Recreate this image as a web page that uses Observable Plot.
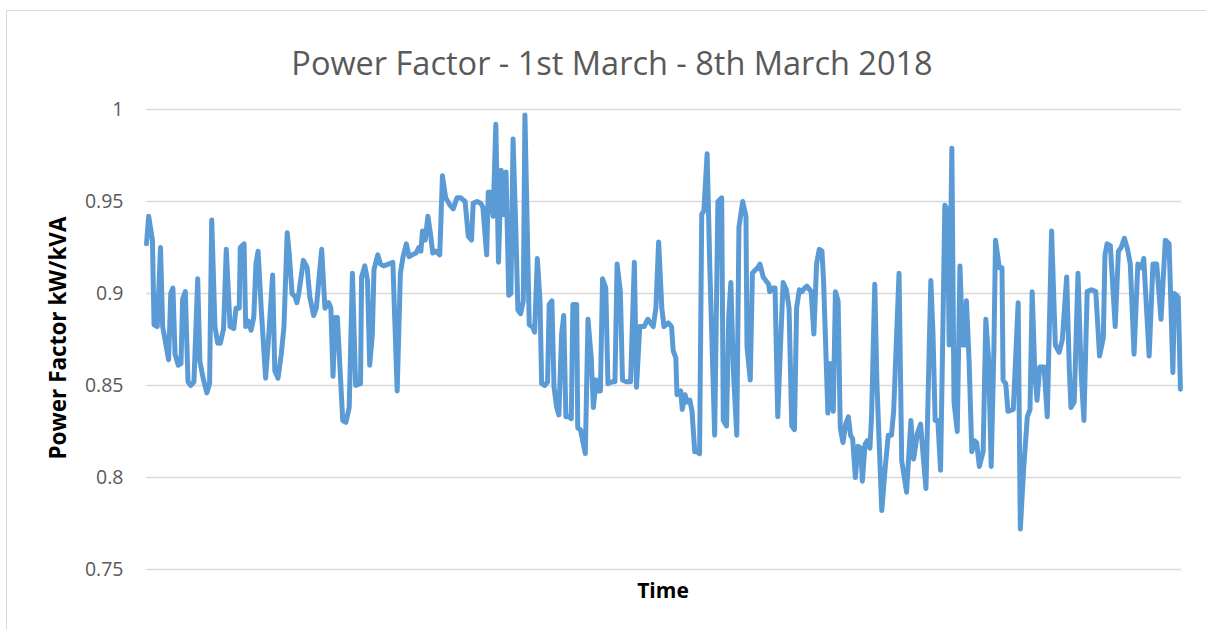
<!DOCTYPE html>
<html>
<head>
<meta charset="utf-8">
<script src="https://cdn.jsdelivr.net/npm/d3@7"></script>
<script src="https://cdn.jsdelivr.net/npm/@observablehq/plot@0.6"></script>
<style>
  html, body { margin: 0; padding: 0; background: #fff; overflow: hidden; }
  #wrap { position: relative; width: 1206px; height: 630px; overflow: hidden; font-family: "Open Sans", sans-serif; }
  #frame { position: absolute; left: 6px; top: 10px; width: 1220px; height: 660px; border: 1px solid #d9d9d9; box-sizing: border-box; }
  #chart { position: absolute; left: 0; top: 0; }
  .lbl { position: absolute; white-space: nowrap; }
  #title { left: 612px; top: 62px; transform: translate(-50%, -50%); font-size: 32.5px; color: #595959; }
  #ylab { left: 57px; top: 338px; transform: translate(-50%, -50%) rotate(-90deg); font-size: 22.5px; font-weight: bold; color: #000; }
  #xlab { left: 663px; top: 590px; transform: translate(-50%, -50%); font-size: 21px; font-weight: bold; color: #000; }
</style>
</head>
<body>
<div id="wrap">
  <div id="frame"></div>
  <div id="chart"></div>
  <div class="lbl" id="title">Power Factor - 1st March - 8th March 2018</div>
  <div class="lbl" id="ylab">Power Factor kW/kVA</div>
  <div class="lbl" id="xlab">Time</div>
</div>
<script>
// Hours since 1 March 2018 00:00
const hours = [0,0.4,1.1,1.4,2.0,2.6,3.0,4.1,4.5,4.9,5.3,5.9,6.4,6.7,7.2,7.7,8.2,8.8,9.5,9.9,10.5,11.2,11.7,12.1,12.7,13.2,13.7,14.3,14.8,15.5,16.2,16.6,17.2,17.4,18.1,18.4,18.9,19.4,19.9,20.3,20.7,21.3,22.1,22.6,23.4,23.8,24.4,25.0,25.5,26.1,26.5,27.0,27.6,27.9,28.3,29.1,29.8,30.3,31.0,31.5,
32.5,33.1,33.8,34.2,34.6,35.0,35.4,36.4,37.0,37.6,38.2,38.8,39.7,39.9,40.5,41.0,41.4,41.9,42.2,42.9,43.4,44.0,44.9,45.7,46.5,47.1,47.6,48.2,48.7,49.3,50.0,50.5,50.9,51.2,51.7,52.2,52.7,53.1,53.7,54.4,54.9,55.5,56.3,56.9,57.6,58.3,59.1,59.7,60.3,60.6,61.3,62.0,62.4,63.1,63.4,
63.8,64.3,64.8,65.3,65.8,66.2,66.7,67.2,67.6,68.0,68.5,68.9,69.4,69.9,70.2,71.0,71.6,72.0,72.5,73.0,73.3,73.9,74.4,74.7,75.2,75.6,76.1,76.5,77.0,77.4,77.8,78.3,78.8,79.1,79.8,80.0,80.5,81.4,81.9,82.5,82.9,83.4,83.8,84.2,84.6,85.2,85.6,86.4,86.9,87.3,87.9,88.3,89.0,89.8,90.5,90.9,91.5,92.3,93.0,
94.0,94.5,95.0,95.6,96.0,96.8,97.4,97.7,98.2,98.4,99.1,99.4,99.9,100.3,100.8,101.2,101.7,102.1,102.6,103.0,103.4,104.0,104.5,105.4,106.0,106.7,107.0,107.6,108.0,108.4,108.9,109.5,109.9,110.6,111.2,111.4,112.0,112.4,113.0,113.4,113.8,114.4,114.9,115.4,115.6,116.1,116.6,117.1,117.6,118.1,118.7,119.2,119.7,120.2,120.6,121.1,121.6,122.1,122.5,123.3,123.8,124.3,124.8,125.3,
125.6,126.4,126.9,127.4,127.8,128.3,128.7,129.2,129.7,130.2,130.6,131.0,131.5,132.0,132.5,132.8,133.3,133.7,134.2,134.5,135.1,135.5,136.4,137.0,137.6,138.2,138.6,139.6,140.1,141.0,141.8,142.3,143.0,143.6,144.1,144.6,145.1,145.5,145.9,146.3,146.8,147.3,147.7,148.1,148.6,148.9,149.4,149.8,150.4,150.9,151.4,151.7,152.1,152.6,153.1,153.6,154.0,154.5,155.2,155.7,156.2,156.7,157.2,157.5,
158.2,158.7,158.9,159.4,159.8,160.8,161.7,162.1,162.7,163.4,163.9,164.3,164.8,165.2,165.7,166.5,167.1,167.9,168.6,169.3,169.9,170.7,171.2,171.5,172.1,172.8,173.4,173.9,174.5,175.3,176.1,176.8,177.5,177.8,178.2,178.8,179.7,180.3,180.8,181.4,182.0,182.5,183.2,183.9,184.6,185.0,186.0,186.7,187.4,188.2,189.0,189.7,190.4,190.7,191.4,191.8];

// Power factor (kW/kVA)
const powerFactor = [0.927,0.942,0.929,0.883,0.882,0.925,0.882,0.864,0.900,0.903,0.867,0.861,0.862,0.897,0.901,0.852,0.850,0.852,0.908,0.863,0.854,0.846,0.851,0.940,0.882,0.873,0.873,0.881,0.924,0.882,0.881,0.892,0.892,0.925,0.927,0.882,0.885,0.880,0.887,0.916,0.923,0.891,0.854,0.874,0.910,0.858,0.854,0.867,0.882,0.933,0.921,0.900,0.898,0.895,0.901,0.918,0.914,0.898,0.888,0.892,
0.924,0.892,0.895,0.892,0.855,0.887,0.887,0.831,0.830,0.838,0.911,0.850,0.851,0.909,0.915,0.907,0.861,0.878,0.913,0.921,0.916,0.915,0.916,0.917,0.847,0.911,0.920,0.927,0.920,0.921,0.922,0.925,0.923,0.934,0.929,0.942,0.932,0.922,0.923,0.921,0.964,0.952,0.948,0.946,0.952,0.952,0.950,0.931,0.929,0.949,0.950,0.949,0.947,0.921,0.955,
0.955,0.942,0.992,0.917,0.967,0.943,0.966,0.899,0.900,0.984,0.936,0.891,0.889,0.896,0.997,0.883,0.882,0.879,0.919,0.896,0.851,0.850,0.852,0.894,0.896,0.849,0.838,0.834,0.878,0.888,0.833,0.833,0.832,0.894,0.894,0.827,0.826,0.813,0.886,0.865,0.838,0.853,0.847,0.847,0.908,0.903,0.851,0.852,0.852,0.916,0.901,0.853,0.852,0.852,0.917,0.849,0.882,0.882,0.886,
0.882,0.892,0.928,0.892,0.882,0.884,0.882,0.869,0.865,0.845,0.847,0.837,0.845,0.841,0.842,0.836,0.814,0.814,0.813,0.943,0.945,0.976,0.914,0.823,0.950,0.952,0.831,0.828,0.887,0.906,0.856,0.823,0.936,0.950,0.942,0.871,0.853,0.911,0.913,0.914,0.916,0.909,0.907,0.905,0.901,0.903,0.903,0.833,0.871,0.906,0.902,0.892,0.828,0.826,0.892,0.902,0.901,0.903,0.904,0.901,0.878,0.916,0.924,0.923,
0.907,0.835,0.862,0.836,0.901,0.896,0.827,0.819,0.829,0.833,0.823,0.821,0.800,0.817,0.816,0.798,0.818,0.820,0.816,0.833,0.905,0.851,0.782,0.804,0.823,0.823,0.836,0.911,0.809,0.792,0.831,0.810,0.824,0.829,0.811,0.794,0.858,0.907,0.878,0.831,0.831,0.804,0.874,0.948,0.945,0.872,0.979,0.841,0.825,0.915,0.872,0.872,0.896,0.863,0.814,0.820,0.819,0.806,0.814,0.886,0.865,0.806,0.870,0.929,
0.914,0.914,0.853,0.851,0.836,0.837,0.895,0.772,0.804,0.833,0.837,0.901,0.856,0.842,0.860,0.860,0.833,0.934,0.872,0.868,0.875,0.909,0.858,0.838,0.841,0.911,0.856,0.831,0.901,0.902,0.901,0.866,0.876,0.921,0.927,0.926,0.882,0.923,0.925,0.930,0.924,0.916,0.867,0.916,0.914,0.919,0.866,0.916,0.916,0.886,0.929,0.927,0.857,0.900,0.898,0.848];

const yTicks = [0.75, 0.8, 0.85, 0.9, 0.95, 1];
const yTickLabels = ["0.75", "0.8", "0.85", "0.9", "0.95", "1"];

const data = hours.map((h, i) => ({hour: h, pf: powerFactor[i]}));

const chart = Plot.plot({
  width: 1206,
  height: 630,
  marginLeft: 146,
  marginRight: 25,
  marginTop: 109,
  marginBottom: 61,
  style: {fontFamily: "'Open Sans', sans-serif", fontSize: "19.5px", color: "#595959", background: "transparent", overflow: "visible"},
  x: {domain: [0, 192], axis: null},
  y: {domain: [0.75, 1], ticks: yTicks, label: null, tickSize: 0, tickPadding: 23,
      tickFormat: d => yTickLabels[yTicks.indexOf(d)]},
  marks: [
    Plot.gridY(yTicks, {stroke: "#d9d9d9", strokeOpacity: 1, strokeWidth: 1.3}),
    Plot.line(data, {x: "hour", y: "pf", stroke: "#5B9BD5", strokeWidth: 5, strokeLinejoin: "round", strokeLinecap: "round"})
  ]
});
document.getElementById("chart").appendChild(chart);
</script>
</body>
</html>
